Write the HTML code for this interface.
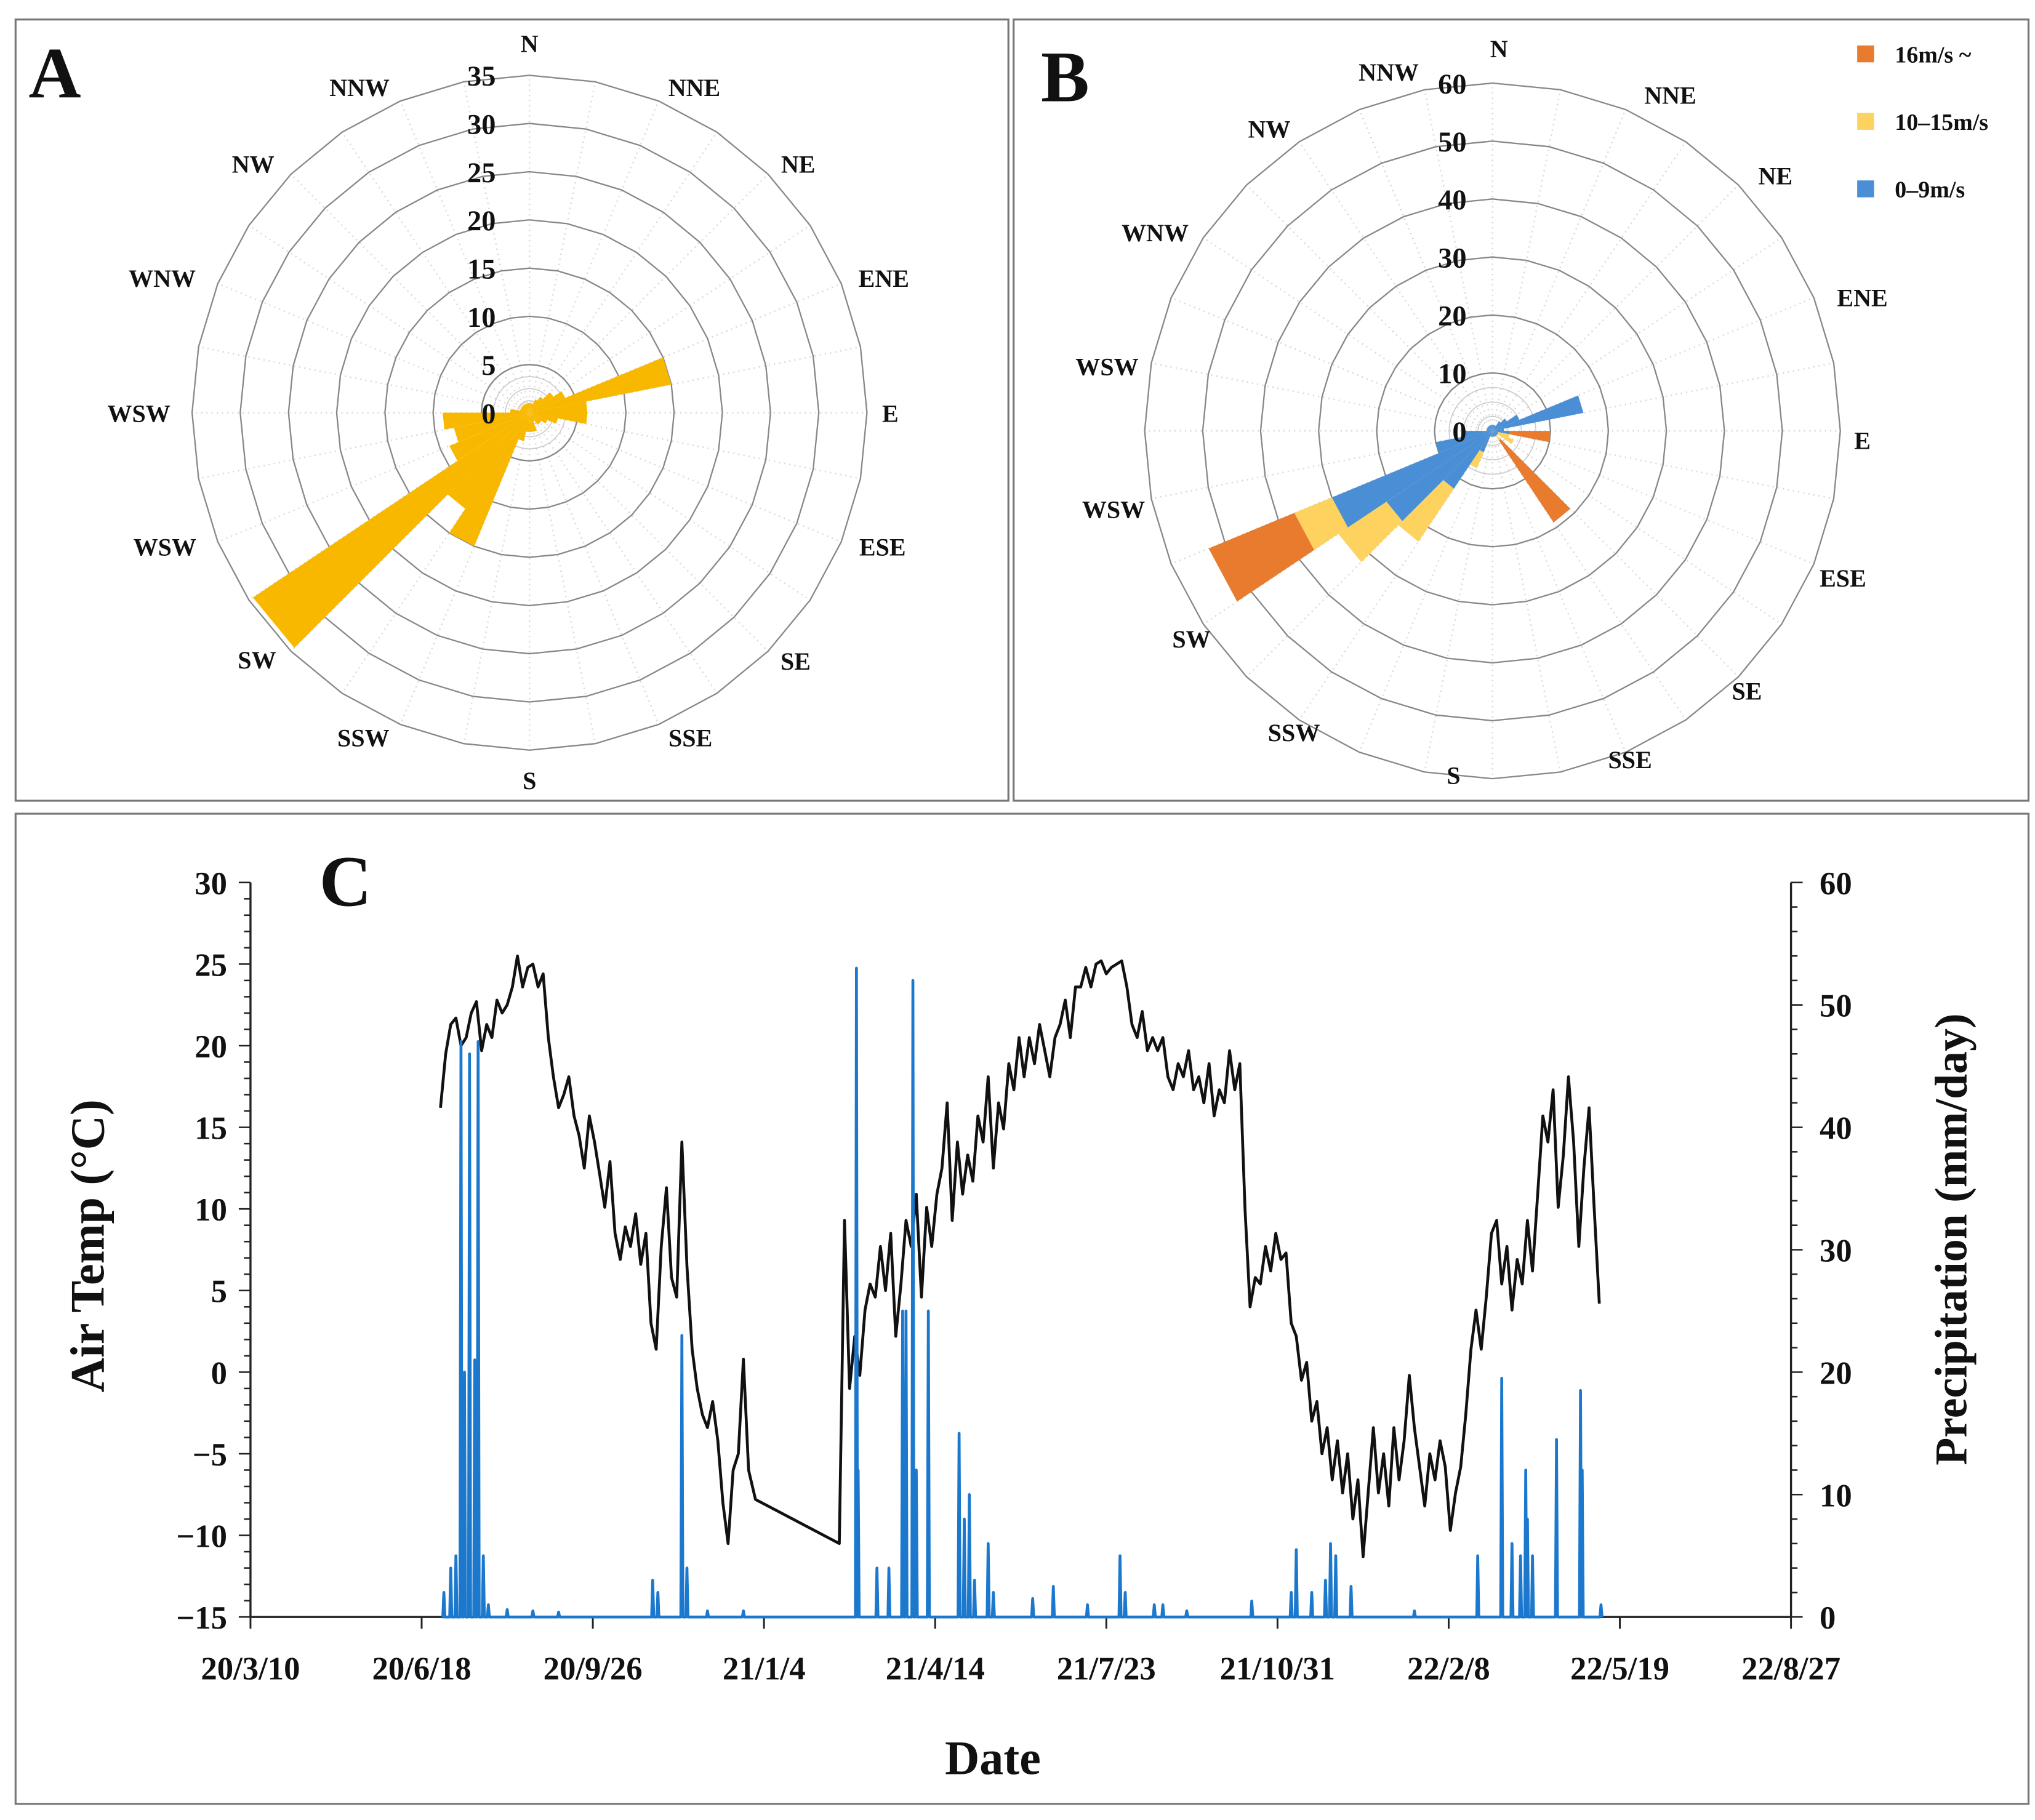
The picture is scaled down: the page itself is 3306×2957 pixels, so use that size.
<!DOCTYPE html>
<html><head><meta charset="utf-8"><style>
html,body{margin:0;padding:0;background:#fff;}
svg{display:block;}
text{font-family:"Liberation Serif",serif;font-weight:bold;fill:#111;}
</style></head><body>
<svg id="fig" xmlns="http://www.w3.org/2000/svg" width="3306" height="2957" viewBox="0 0 1568 1402.4">
<rect x="0" y="0" width="1568" height="1402.4" fill="#fff"/>
<rect x="12" y="15" width="765" height="602" fill="none" stroke="#777" stroke-width="1.5"/>
<rect x="781" y="15" width="782" height="602" fill="none" stroke="#777" stroke-width="1.5"/>
<rect x="12" y="627" width="1551" height="763" fill="none" stroke="#777" stroke-width="1.5"/>
<text x="22" y="75" font-size="56">A</text>
<text x="802" y="78" font-size="56">B</text>
<text x="246" y="698" font-size="56">C</text>
<g id="roseA"></g>
<g id="roseB"></g>
<g id="legendB">
  <rect x="1431" y="35" width="13" height="13" fill="#E97B2E"/>
  <text x="1460" y="48" font-size="18">16m/s ~</text>
  <rect x="1431" y="87" width="13" height="13" fill="#FDD25F"/>
  <text x="1460" y="100" font-size="18">10–15m/s</text>
  <rect x="1431" y="139" width="13" height="13" fill="#4A8FD6"/>
  <text x="1460" y="152" font-size="18">0–9m/s</text>
</g>
<g id="chartC"></g>
<text transform="translate(80,960) rotate(-90)" text-anchor="middle" font-size="37">Air Temp  (°C)</text>
<text transform="translate(1515,955) rotate(-90)" text-anchor="middle" font-size="35">Precipitation (mm/day)</text>
<text x="765" y="1367" text-anchor="middle" font-size="37">Date</text>
</svg>
<script>
// ---- Wind rose A data (32 sectors of 11.25°, % frequency) ----
var roseAValues = [1,1,1.5,2,3,4,15,6,6,3,2,1.5,1.5,1,2,2,2,3,15,12,34.5,9,8,9,2,1,1,1,1,1,1,1];
// ---- Wind rose B data (stacked by speed class) ----
var roseBLow  = [1,1,1,2,3,5,16,2,3,1,1,1,1,1,1,1,1,1,4,12,22,30,10,5,1,1,1,1,1,1,1,1];
var roseBMid  = [0,0,0,0,0,0,0,0,0,2,3,0,1,0,0,0,0,0,3,11,10,7,0,0,0,0,0,0,0,0,0,0];
var roseBHigh = [0,0,0,0,0,0,0,0,7,0,0,0,17,0,0,0,0,0,0,0,0,16,0,0,0,0,0,0,0,0,0,0];
var dirLabelsA = ["N","NNE","NE","ENE","E","ESE","SE","SSE","S","SSW","SW","WSW","WSW","WNW","NW","NNW"];
var dirLabelsB = ["N","NNE","NE","ENE","E","ESE","SE","SSE","S","SSW","SW","WSW","WSW","WNW","NW","NNW"];
var ringTicksA = [0,5,10,15,20,25,30,35];
var ringTicksB = [0,10,20,30,40,50,60];

// ---- Chart C data ----
var tempStartDay1 = 111, tempStep = 3;
var tempSeg1 = [16.2,19.5,21.3,21.7,20,20.5,22,22.7,19.7,21.3,20.5,22.8,22,22.5,23.6,25.5,23.6,24.8,25,23.6,24.4,20.5,18.1,16.2,17,18.1,15.7,14.5,12.5,15.7,14.1,12.1,10.1,12.9,8.5,6.9,8.9,7.7,9.7,6.6,8.5,3.0,1.4,7.7,11.3,5.8,4.6,14.1,6.5,1.4,-1.0,-2.6,-3.4,-1.8,-4.2,-8.0,-10.5,-6.0,-5.0,0.8,-6.0];
var gapDays = [295,344];
var gapTemps = [-7.8,-10.5];
var tempStartDay2 = 344;
var tempSeg2 = [-10.5,9.3,-1.0,2.2,-0.2,3.8,5.4,4.6,7.7,5.0,8.5,2.2,5.4,9.3,7.7,10.9,4.6,10.1,7.7,10.9,12.5,16.5,9.3,14.1,10.9,13.3,11.7,15.7,14.1,18.1,12.5,16.5,14.9,18.9,17.3,20.5,18.1,20.5,18.9,21.3,19.7,18.1,20.5,21.3,22.8,20.5,23.6,23.6,24.8,23.6,25.0,25.2,24.4,24.8,25.0,25.2,23.6,21.3,20.5,22.1,19.7,20.5,19.7,20.5,18.1,17.3,18.9,18.1,19.7,17.3,18.1,16.5,18.9,15.7,17.3,16.5,19.7,17.3,18.9,10.0,4.0,5.8,5.4,7.7,6.2,8.5,6.9,7.3,3.0,2.2,-0.5,0.6,-3.0,-1.8,-5.0,-3.4,-6.6,-4.2,-7.4,-5.0,-9.0,-6.6,-11.3,-7.4,-3.4,-7.4,-5.0,-8.2,-3.4,-6.6,-4.2,-0.2,-3.4,-5.8,-8.2,-5.0,-6.6,-4.2,-5.8,-9.7,-7.4,-5.8,-2.6,1.4,3.8,1.4,4.6,8.5,9.3,5.4,7.7,3.8,6.9,5.4,9.3,6.2,10.9,15.7,14.1,17.3,10.1,13.3,18.1,14.1,7.7,12.5,16.2,10.1,4.2];
var precipDays = [113,117,120,123,125,128,131,133,136,139,150,165,180,235,238,252,255,267,288,354,355,366,373,381,383,387,389,396,414,417,420,423,431,434,457,469,489,508,511,528,533,547,585,608,611,620,628,631,634,643,680,717,731,737,742,745,746,749,763,777,778,789];
var precipVals = [2,4,5,47,20,46,21,47,5,1,0.6,0.5,0.4,3,2,23,4,0.5,0.5,53,12,4,4,25,25,52,12,25,15,8,10,3,6,2,1.5,2.5,1,5,2,1,1,0.5,1.3,2,5.5,2,3,6,5,2.5,0.5,5,19.5,6,5,12,8,5,14.5,18.5,12,1];
var xTickLabels = ["20/3/10","20/6/18","20/9/26","21/1/4","21/4/14","21/7/23","21/10/31","22/2/8","22/5/19","22/8/27"];
var xTickDays = [0,100,200,300,400,500,600,700,800,900];
var tempTicks = [-15,-10,-5,0,5,10,15,20,25,30];
var precipTicks = [0,10,20,30,40,50,60];

var NS = "http://www.w3.org/2000/svg";
function mk(tag, attrs, parent){ var e=document.createElementNS(NS,tag); for(var k in attrs) e.setAttribute(k,attrs[k]); parent.appendChild(e); return e; }
function pt(cx,cy,r,deg){ var a=deg*Math.PI/180; return [cx+r*Math.sin(a), cy-r*Math.cos(a)]; }

function drawRose(g, cx, cy, rMax, vMax, ticks, labels, labelR, labelPos){
  // spokes
  for(var i=0;i<32;i++){
    var p=pt(cx,cy,rMax,i*11.25);
    var s=mk("line",{x1:cx,y1:cy,x2:p[0].toFixed(1),y2:p[1].toFixed(1),stroke:"#d8d8d8","stroke-width":"1.2","stroke-dasharray":"1 3"},g);
    
    
  }
  // minor inner rings
  for(var m=1;m<=3;m++){
    var pts=[]; for(var i=0;i<32;i++){ var p=pt(cx,cy,(rMax/ticks[ticks.length-1])*ticks[1]*m/4,i*11.25); pts.push(p[0].toFixed(1)+","+p[1].toFixed(1)); }
    var pr=mk("polygon",{points:pts.join(" "),fill:"none",stroke:"#ccc","stroke-width":"0.8"},g);
    
    
  }
  for(var t=1;t<ticks.length;t++){
    var r=rMax*ticks[t]/vMax, pts=[];
    for(var i=0;i<32;i++){ var p=pt(cx,cy,r,i*11.25); pts.push(p[0].toFixed(1)+","+p[1].toFixed(1)); }
    var ring=mk("polygon",{points:pts.join(" "),fill:"none",stroke:"#888","stroke-width":"1.1"},g);
    
    
  }
  for(var i=0;i<16;i++){
    var lp=labelPos[i];
    var tx=mk("text",{x:lp[0],y:lp[1],"text-anchor":"middle","font-size":"19"},g);
    tx.textContent=labels[i];
    
    
  }
}
function sector(g, cx, cy, scale, i, v0, v1, color, name){
  if(v1<=v0) return;
  var a0=i*11.25, a1=a0+11.25, pts=[];
  var o0=pt(cx,cy,v1*scale,a0), o1=pt(cx,cy,v1*scale,a1), n1=pt(cx,cy,v0*scale,a1), n0=pt(cx,cy,v0*scale,a0);
  [o0,o1,n1,n0].forEach(function(p){pts.push(p[0].toFixed(1)+","+p[1].toFixed(1));});
  var e=mk("polygon",{points:pts.join(" "),fill:color},g);
  
  
}

// Rose A
(function(){
  var g=document.getElementById("roseA"), cx=408, cy=318, rMax=260, vMax=35;
  var lab=[[408,40],[535,74],[615,133],[681,221],[686,325],[680,428],[613,516],[532,575],[408,608],[280,575],[198,515],[127,428],[107,325],[125,221],[195,133],[277,74]];
  drawRose(g,cx,cy,rMax,vMax,ringTicksA,dirLabelsA,0,lab);
  var sc=rMax/vMax;
  for(var i=0;i<32;i++) sector(g,cx,cy,sc,i,0,roseAValues[i],"#F9B800","petal-a-"+i);
  for(var t=0;t<ringTicksA.length;t++){
    var y=cy-ringTicksA[t]*sc+8;
    var tx=mk("text",{x:382,y:y.toFixed(1),"text-anchor":"end","font-size":"22"},g);
    tx.textContent=ringTicksA[t];
    
    
  }
})();
// Rose B
(function(){
  var g=document.getElementById("roseB"), cx=1150, cy=332, rMax=268, vMax=60;
  var lab=[[1155,44],[1287,80],[1368,142],[1435,236],[1435,346],[1420,452],[1346,539],[1256,592],[1120,604],[997,571],[918,499],[858,399],[853,289],[890,186],[978,106],[1070,62]];
  drawRose(g,cx,cy,rMax,vMax,ringTicksB,dirLabelsB,0,lab);
  var sc=rMax/vMax;
  for(var i=0;i<32;i++){
    var a=roseBLow[i], b=a+roseBMid[i], c=b+roseBHigh[i];
    sector(g,cx,cy,sc,i,0,a,"#4A8FD6","petal-b-low-"+i);
    sector(g,cx,cy,sc,i,a,b,"#FDD25F","petal-b-mid-"+i);
    sector(g,cx,cy,sc,i,b,c,"#E97B2E","petal-b-high-"+i);
  }
  for(var t=0;t<ringTicksB.length;t++){
    var y=cy-ringTicksB[t]*sc+8;
    var tx=mk("text",{x:1130,y:y.toFixed(1),"text-anchor":"end","font-size":"22"},g);
    tx.textContent=ringTicksB[t];
    
    
  }
})();

// Chart C
(function(){
  var g=document.getElementById("chartC");
  var X0=193, X1=1380, YT=680, YB=1246;
  function xs(d){ return X0+(d-xTickDays[0])*(X1-X0)/(xTickDays[xTickDays.length-1]-xTickDays[0]); }
  function yt(v){ return YB-(v-tempTicks[0])*(YB-YT)/(tempTicks[tempTicks.length-1]-tempTicks[0]); }
  function yp(v){ return YB-(v-precipTicks[0])*(YB-YT)/(precipTicks[precipTicks.length-1]-precipTicks[0]); }
  // axes
  var ax;
  ax=mk("line",{x1:X0,y1:YT,x2:X0,y2:YB,stroke:"#222","stroke-width":"1.6"},g);  
  ax=mk("line",{x1:X1,y1:YT,x2:X1,y2:YB,stroke:"#222","stroke-width":"1.6"},g);  
  ax=mk("line",{x1:X0,y1:YB,x2:X1,y2:YB,stroke:"#222","stroke-width":"1.6"},g);  
  for(var v=tempTicks[0]; v<=tempTicks[tempTicks.length-1]; v++){
    var y=yt(v), major=(v%5===0);
    mk("line",{x1:X0-(major?9:5),y1:y,x2:X0,y2:y,stroke:"#222","stroke-width":"1.2"},g);
  }
  tempTicks.forEach(function(v){
    var tx=mk("text",{x:X0-18,y:(yt(v)+9).toFixed(1),"text-anchor":"end","font-size":"25"},g);
    tx.textContent=(v<0?"\u2212"+(-v):v);
    
    
  });
  for(var v=precipTicks[0]; v<=precipTicks[precipTicks.length-1]; v+=2){
    var y=yp(v), major=(v%10===0);
    mk("line",{x1:X1,y1:y,x2:X1+(major?9:5),y2:y,stroke:"#222","stroke-width":"1.2"},g);
  }
  precipTicks.forEach(function(v){
    var tx=mk("text",{x:X1+22,y:(yp(v)+9).toFixed(1),"font-size":"25"},g);
    tx.textContent=v;
    
    
  });
  xTickDays.forEach(function(d,i){
    var x=xs(d);
    mk("line",{x1:x,y1:YB,x2:x,y2:YB+9,stroke:"#222","stroke-width":"1.4"},g);
    var tx=mk("text",{x:x.toFixed(1),y:YB+48,"text-anchor":"middle","font-size":"25"},g);
    tx.textContent=xTickLabels[i];
    
    
  });
  // temperature
  var pts=[];
  tempSeg1.forEach(function(v,i){ pts.push(xs(tempStartDay1+i*tempStep).toFixed(1)+","+yt(v).toFixed(1)); });
  gapDays.forEach(function(d,i){ pts.push(xs(d).toFixed(1)+","+yt(gapTemps[i]).toFixed(1)); });
  tempSeg2.forEach(function(v,i){ pts.push(xs(tempStartDay2+i*tempStep).toFixed(1)+","+yt(v).toFixed(1)); });
  var tl=mk("polyline",{points:pts.join(" "),fill:"none",stroke:"#111","stroke-width":"2.2","stroke-linejoin":"round"},g);
  
  
  // precipitation
  var pp=[xs(precipDays[0]-1).toFixed(1)+","+yp(0).toFixed(1)];
  precipDays.forEach(function(d,i){
    pp.push(xs(d-0.6).toFixed(1)+","+yp(0).toFixed(1));
    pp.push(xs(d).toFixed(1)+","+yp(precipVals[i]).toFixed(1));
    pp.push(xs(d+0.6).toFixed(1)+","+yp(0).toFixed(1));
  });
  var pl=mk("polyline",{points:pp.join(" "),fill:"none",stroke:"#1B78CC","stroke-width":"2.2","stroke-linejoin":"round"},g);
  
  
})();
</script>
</body></html>
